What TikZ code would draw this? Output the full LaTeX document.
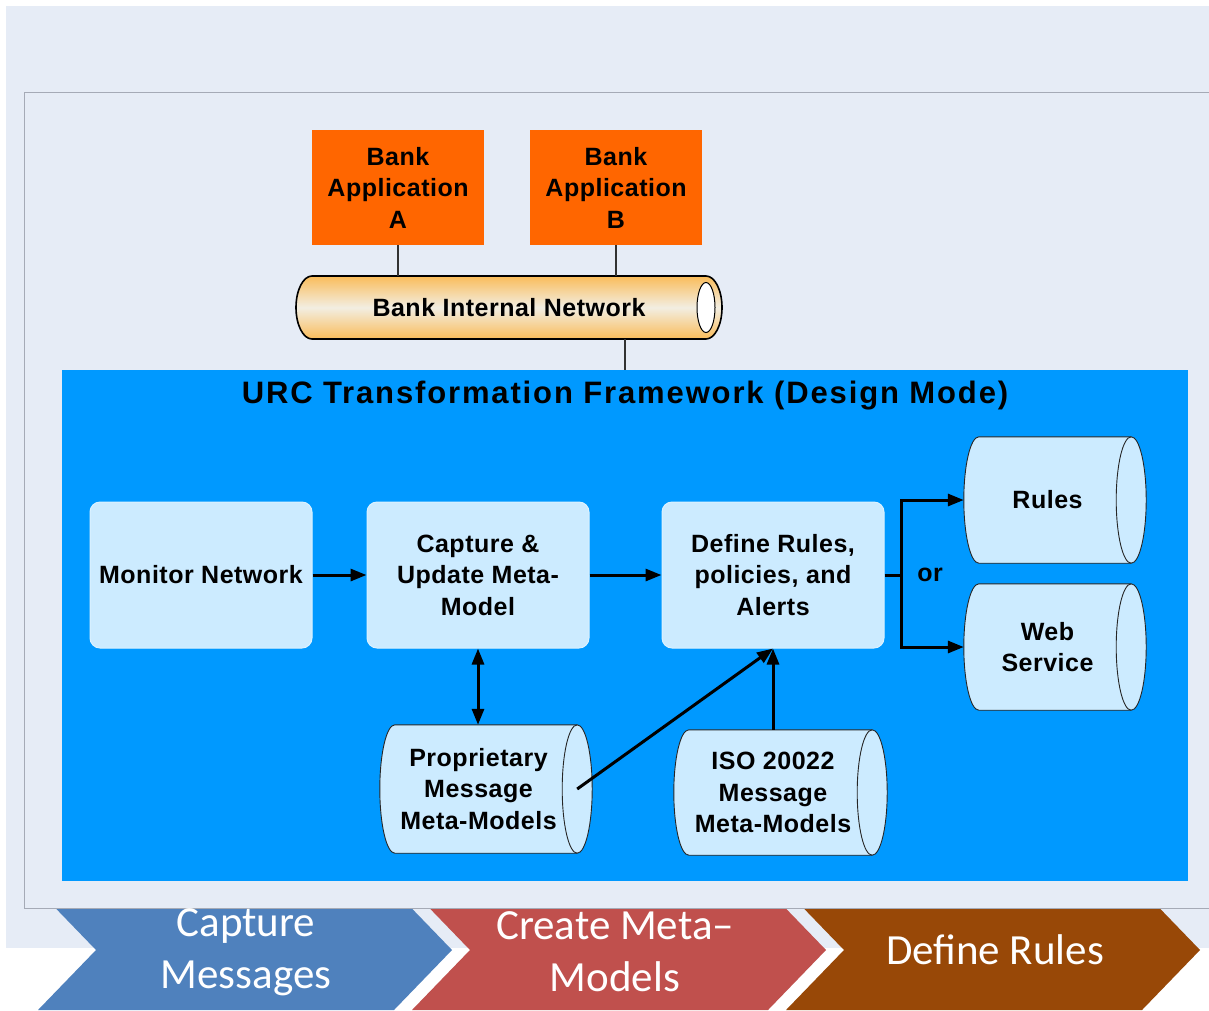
\documentclass[tikz,border=0pt]{standalone}
\usepackage{fontspec}
\setmainfont{Liberation Sans}
\newfontfamily\dfont{Liberation Sans}[LetterSpace=2]
\newfontfamily\tfont{Liberation Sans}[LetterSpace=6]
\newfontfamily\cfont{Carlito}
\usetikzlibrary{arrows.meta,calc}

\definecolor{pagebg}{RGB}{230,236,246}
\definecolor{framegray}{RGB}{165,170,182}
\definecolor{bankorange}{RGB}{255,102,0}
\definecolor{urcblue}{RGB}{0,153,255}
\definecolor{boxblue}{RGB}{204,235,255}
\definecolor{boxrim}{RGB}{220,242,255}
\definecolor{pipeorange}{RGB}{250,188,90}
\definecolor{pipelight}{RGB}{242,238,226}
\definecolor{chevblue}{RGB}{79,129,189}
\definecolor{chevred}{RGB}{192,80,77}
\definecolor{chevbrown}{RGB}{152,72,7}
\definecolor{wire}{RGB}{50,50,50}

\newcommand\boxfont{\dfont\bfseries\fontsize{25}{31.5}\selectfont}
\newcommand\titlefont{\tfont\bfseries\fontsize{31}{36}\selectfont}
\newcommand\chevfont{\cfont\fontsize{43}{52}\selectfont}

\pgfdeclarelayer{base}
\pgfdeclarelayer{drums}
\pgfsetlayers{base,drums,main}

\tikzset{
  bankbox/.style={fill=bankorange, minimum width=172pt, minimum height=115pt,
    inner sep=0pt, align=center, font=\boxfont},
  stepbox/.style={fill=boxblue, draw=boxrim, line width=1pt, rounded corners=10pt,
    minimum width=222pt, minimum height=146pt, inner sep=0pt, align=center, font=\boxfont},
  drumnode/.style={inner sep=0pt, align=center, font=\boxfont},
  drumfill/.style={fill=boxblue},
  drumline/.style={draw=black!85, line width=0.9pt},
  lbl/.style={inner sep=0pt, align=center, font=\boxfont},
  chevtext/.style={inner sep=0pt, align=center, text=white, font=\chevfont},
  thinwire/.style={draw=wire, line width=1.3pt},
  flow/.style={line width=3pt, -{Triangle[length=16pt,width=12pt]}},
  flowboth/.style={line width=3pt, {Triangle[length=16pt,width=12pt]}-{Triangle[length=16pt,width=12pt]}},
  plainflow/.style={line width=3pt},
}

% storage drum: body spans from the left bulge to the centre of the right end
\newcommand\drumbody[1]{%
  \begin{pgfonlayer}{drums}
    \fill[drumfill] let \p1=(#1.north west), \p2=(#1.south east), \n1={0.5*(\y1-\y2)} in
      (\x2,\y1) arc[start angle=90,end angle=-90,x radius=15pt,y radius=\n1]
      -- (\x1+15pt,\y2) arc[start angle=270,end angle=90,x radius=15pt,y radius=\n1] -- cycle;
    \draw[drumline] let \p1=(#1.north west), \p2=(#1.south east), \n1={0.5*(\y1-\y2)} in
      (\x2,\y1) arc[start angle=90,end angle=-90,x radius=15pt,y radius=\n1]
      -- (\x1+15pt,\y2) arc[start angle=270,end angle=90,x radius=15pt,y radius=\n1] -- cycle;
    \draw[drumline] let \p1=(#1.north west), \p2=(#1.south east), \n1={0.5*(\y1-\y2)} in
      (\x2,\y1) arc[start angle=90,end angle=270,x radius=15pt,y radius=\n1];
  \end{pgfonlayer}}

\begin{document}
\begin{tikzpicture}[x=1pt,y=-1pt]
\useasboundingbox (0,0) rectangle (1209,1010);

\begin{pgfonlayer}{base}
  \fill[white] (0,0) rectangle (1209,1010);
  \fill[pagebg] (6,6) rectangle (1209,948);
  % process chevrons
  \fill[chevblue]  (38,890) -- (394,890) -- (452,950) -- (394,1010) -- (38,1010) -- (96,950) -- cycle;
  \fill[chevred]   (412,890) -- (768,890) -- (826,950) -- (768,1010) -- (412,1010) -- (470,950) -- cycle;
  \fill[chevbrown] (786,890) -- (1142,890) -- (1200,950) -- (1142,1010) -- (786,1010) -- (844,950) -- cycle;
  % slide frame
  \filldraw[fill=pagebg, draw=framegray, line width=1pt] (1212,92) -- (24,92) -- (24,908) -- (1212,908);
  % framework panel
  \fill[urcblue] (62,370) rectangle (1188,881);
\end{pgfonlayer}

% chevron captions
\node[chevtext] (capmsg) at (246,952) {Capture\\Messages};
\node[chevtext] (mkmeta) at (615,952) {Create Meta–\\Models};
\node[chevtext] (defrul) at (995,950) {Define Rules};

% bank applications
\node[bankbox] (appA) at (398,187.5) {Bank\\Application\\A};
\node[bankbox] (appB) at (616,187.5) {Bank\\Application\\B};

% internal network pipe
\node[lbl, minimum width=426pt, minimum height=63pt] (net) at (509,307.5) {Bank Internal Network};
\begin{pgfonlayer}{drums}
  \draw[line width=1.6pt, top color=pipeorange, bottom color=pipeorange, middle color=pipelight]
    (312,276) -- (706,276) arc[start angle=90,end angle=-90,x radius=16pt,y radius=31.5pt]
    -- (312,339) arc[start angle=270,end angle=90,x radius=16pt,y radius=31.5pt] -- cycle;
  \draw[fill=white, line width=1pt] (706,307.5) ellipse[x radius=9pt, y radius=25pt];
\end{pgfonlayer}

\draw[thinwire] (appA.south) -- (appA.south |- net.north);
\draw[thinwire] (appB.south) -- (appB.south |- net.north);
\coordinate (netdrop) at (625,339);
\coordinate (urctop) at (625,370);
\draw[thinwire] (netdrop) -- (urctop);

% framework title
\node[inner sep=0pt, font=\titlefont] (urctitle) at (625,396) {URC Transformation Framework (Design Mode)};

% process steps
\node[stepbox] (monitor) at (201,575) {Monitor Network};
\node[stepbox] (capture) at (478,575) {Capture \&\\Update Meta-\\Model};
\node[stepbox] (define)  at (773,575) {Define Rules,\\policies, and\\Alerts};

% storage drums
\node[drumnode, minimum width=167pt, minimum height=126pt] (rules) at (1047.5,500) {Rules};
\node[drumnode, minimum width=167pt, minimum height=126pt] (web)   at (1047.5,647) {Web\\Service};
\node[drumnode, minimum width=197pt, minimum height=128pt] (prop)  at (478.5,789) {Proprietary\\Message\\Meta-Models};
\node[drumnode, minimum width=198pt, minimum height=125pt] (iso)   at (773,792.5) {ISO 20022\\Message\\Meta-Models};
\drumbody{rules}
\drumbody{web}
\drumbody{prop}
\drumbody{iso}

% flows
\draw[flow] (monitor.east) -- (capture.west);
\draw[flow] (capture.east) -- (define.west);
\coordinate (branch) at (901,575);
\draw[plainflow] (define.east) -- (branch);
\draw[flow] (branch) |- (rules.west);
\draw[flow] (branch) |- (web.west);
\node[lbl] (orlbl) at (930,575) {or};
\draw[flowboth] (capture.south) -- (capture.south |- prop.north);
\draw[flow] (prop.east) -- (define.south);
\draw[flow] (iso.north -| define.south) -- (define.south);
\end{tikzpicture}
\end{document}
